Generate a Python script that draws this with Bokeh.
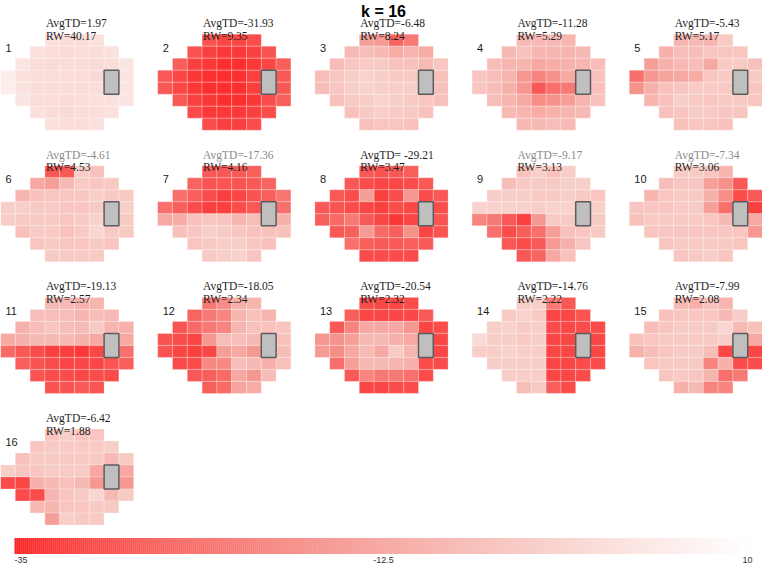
import numpy as np
from bokeh.plotting import figure
from bokeh.models import Range1d, ColumnDataSource, LinearColorMapper
from bokeh.core.properties import value
from bokeh.embed import file_html
from bokeh.resources import INLINE

# ---------------- data ----------------
TITLE = "k = 16"
AVG_TD_LABELS = ["AvgTD=1.97", "AvgTD=-31.93", "AvgTD=-6.48", "AvgTD=-11.28", "AvgTD=-5.43",
                 "AvgTD=-4.61", "AvgTD=-17.36", "AvgTD= -29.21", "AvgTD=-9.17", "AvgTD=-7.34",
                 "AvgTD=-19.13", "AvgTD=-18.05", "AvgTD=-20.54", "AvgTD=-14.76", "AvgTD=-7.99",
                 "AvgTD=-6.42"]
RW_LABELS = ["RW=40.17", "RW=9.35", "RW=8.24", "RW=5.29", "RW=5.17", "RW=4.53", "RW=4.16",
             "RW=3.47", "RW=3.13", "RW=3.06", "RW=2.57", "RW=2.34", "RW=2.32", "RW=2.22",
             "RW=2.08", "RW=1.88"]
GREY_AVG_PANELS = [6, 7, 9, 10]
CBAR_TICKS = [-35, -12.5, 10]
CBAR_TICK_LABELS = ["-35", "-12.5", "10"]
VMIN, VMAX = -35, 10
# columns occupied by each of the 8 rows of the 24-2 grid (blind spot = None)
ROW_COLS = [(3, 6), (2, 7), (1, 8), (0, 8), (0, 8), (1, 8), (2, 7), (3, 6)]

P1 = [[2, 1, 1, 2],
      [2, 1, 0, 1, 1, 2],
      [3, 1, 0, 1, 1, 0, 1, 3],
      [5, 2, 1, 1, 1, 1, 0, None, 3],
      [5, 2, 1, 1, 1, 1, 1, None, 3],
      [3, 1, 1, 0, 1, 2, 2, 3],
      [2, 1, 0, 1, 1, 2],
      [2, 1, 1, 2]]
P2 = [[-29, -31, -31, -30],
      [-29, -32, -33, -33, -32, -29],
      [-27, -32, -33, -34, -34, -33, -31, -27],
      [-28, -31, -33, -34, -34, -34, -32, None, -28],
      [-28, -31, -33, -34, -34, -34, -32, None, -28],
      [-28, -32, -33, -34, -34, -33, -30, -27],
      [-30, -33, -33, -33, -32, -30],
      [-30, -32, -32, -30]]
P3 = [[-14, -15, -26, -22],
      [-8, -7, -8, -11, -9, -11],
      [-7, -5, -4, -4, -6, -6, -8, -5],
      [-7, -5, -3, -2, -3, -4, -4, None, -6],
      [-7, -5, -3, -2, -3, -3, -3, None, -6],
      [-6, -4, -3, -2, -3, -4, -5, -6],
      [-6, -4, -3, -4, -4, -6],
      [-6, -5, -5, -6]]
P4 = [[-8, -8, -8, -9],
      [-8, -6, -9, -9, -9, -8],
      [-7, -9, -9, -12, -11, -10, -9, -7],
      [-5, -7, -9, -16, -20, -17, -12, None, -6],
      [-5, -7, -10, -16, -28, -24, -22, None, -6],
      [-7, -9, -12, -18, -17, -14, -9, -6],
      [-8, -9, -11, -10, -9, -8],
      [-8, -8, -7, -8]]
P5 = [[-9, -8, -9, -4],
      [-10, -7, -7, -5, -5, -5],
      [-14, -10, -8, -7, -12, -4, -4, -6],
      [-24, -16, -13, -12, -11, -5, -4, None, -4],
      [-17, -10, -6, -5, -4, -4, -4, None, -5],
      [-9, -6, -3, -4, -5, -4, -4, -5],
      [-6, -5, -4, -4, -5, -5],
      [-6, -5, -5, -6]]
P6 = [[-28, -28, -3, -6],
      [-12, -14, -8, -4, -5, -4],
      [-9, -6, -5, -5, -5, -3, -4, -4],
      [-3, -3, -4, -4, -5, -5, -4, None, -3],
      [-3, -4, -4, -4, -5, -4, -2, None, -4],
      [-6, -4, -4, -6, -4, -1, -4, -4],
      [-5, -4, -5, -5, -4, -5],
      [-4, -4, -4, -4]]
P7 = [[-28, -28, -28, -27],
      [-26, -29, -29, -29, -28, -26],
      [-24, -27, -30, -32, -31, -29, -27, -23],
      [-24, -27, -30, -32, -32, -30, -28, None, -24],
      [-12, -11, -6, -5, -5, -9, -7, None, -10],
      [-6, -5, -3, -4, -5, -6, -6, -6],
      [-5, -4, -3, -3, -5, -6],
      [-4, -3, -2, -5]]
P8 = [[-28, -29, -28, -27],
      [-28, -30, -31, -31, -30, -28],
      [-28, -30, -14, -32, -30, -16, -30, -28],
      [-28, -29, -30, -31, -32, -30, -31, None, -30],
      [-27, -25, -22, -28, -31, -33, -31, None, -29],
      [-28, -27, -15, -25, -27, -17, -31, -29],
      [-24, -27, -28, -28, -27, -28],
      [-30, -30, -30, -30]]
P9 = [[-6, -3, -6, -3],
      [-7, -4, -4, -4, -3, -3],
      [-3, -3, -3, -4, -4, -3, -4, -5],
      [-2, -2, -2, -2, -3, -2, -2, None, -3],
      [-20, -22, -28, -32, -16, -4, -4, None, -4],
      [-24, -30, -27, -24, -14, -6, -5, -4],
      [-28, -30, -28, -15, -10, -5],
      [-28, -26, -12, -6]]
P10 = [[-4, -4, -5, -9],
       [-7, -5, -5, -14, -17, -28],
       [-9, -5, -4, -4, -10, -18, -30, -28],
       [-5, -5, -5, -4, -4, -14, -24, None, -32],
       [-6, -4, -4, -4, -4, -5, -8, None, -12],
       [-5, -5, -5, -5, -5, -5, -5, -16],
       [-5, -4, -4, -4, -4, -5],
       [-5, -4, -3, -5]]
P11 = [[-8, -8, -10, -9],
       [-7, -7, -7, -9, -7, -8],
       [-10, -7, -5, -7, -8, -4, -9, -10],
       [-12, -10, -8, -8, -8, -10, -12, None, -12],
       [-25, -28, -30, -32, -32, -33, -31, None, -24],
       [-27, -29, -30, -31, -31, -31, -29, -27],
       [-29, -30, -30, -31, -30, -30],
       [-29, -29, -28, -29]]
P12 = [[-22, -18, -10, -9],
       [-26, -22, -20, -9, -6, -9],
       [-29, -25, -22, -20, -9, -6, -6, -5],
       [-29, -30, -31, -16, -7, -7, -8, None, -6],
       [-29, -31, -32, -31, -14, -12, -16, None, -7],
       [-30, -30, -19, -19, -7, -8, -10, -6],
       [-28, -27, -25, -12, -16, -7],
       [-27, -25, -13, -11]]
P13 = [[-30, -31, -31, -30],
       [-27, -31, -31, -31, -31, -28],
       [-28, -20, -12, -12, -12, -16, -31, -30],
       [-16, -17, -14, -8, -8, -10, -12, None, -31],
       [-15, -18, -12, -8, -12, -4, -9, None, -31],
       [-24, -14, -8, -8, -9, -10, -30, -30],
       [-28, -20, -22, -22, -24, -30],
       [-31, -31, -30, -30]]
P14 = [[-3, -3, -22, -28],
       [-4, -2, -4, -31, -31, -29],
       [-3, -2, -4, -3, -30, -31, -30, -30],
       [0, -3, -3, -4, -3, -31, -31, None, -31],
       [-3, -3, -2, -3, -3, -31, -31, None, -31],
       [-3, -3, -3, -3, -31, -31, -30, -30],
       [-3, -3, -3, -31, -31, -30],
       [-7, -4, -27, -30]]
P15 = [[-8, -10, -6, -9],
       [-6, -5, -5, -5, -8, -3],
       [-7, -5, -4, -4, -4, -1, -8, -6],
       [-6, -5, -4, -4, -4, -4, -3, None, -12],
       [-10, -7, -5, -4, -4, -7, -31, None, -31],
       [-5, -4, -4, -4, -20, -10, -30, -30],
       [-5, -4, -5, -9, -24, -22],
       [-10, -8, -20, -20]]
P16 = [[-5, -3, -5, -5],
       [-5, -4, -4, -4, -4, -3],
       [-6, -4, -4, -4, -4, -4, -8, -4],
       [-3, -5, -5, -4, -4, -4, -12, None, -12],
       [-30, -31, -10, -8, -6, -8, -16, None, -16],
       [-30, -30, -9, -5, -4, -1, -8, -4],
       [-8, -9, -5, -5, -4, -4],
       [-14, -3, -4, -4]]
PANELS = [P1, P2, P3, P4, P5, P6, P7, P8, P9, P10, P11, P12, P13, P14, P15, P16]

# ---------------- layout / style ----------------
W, H = 762, 566
CW, CH = 14.8, 12.0
PITCH, VPITCH = 157.2, 131.6
X0, Y0 = 0.0, 33.7
NCOL = 5
CB_X0, CB_W = 14.0, 738.0
CB_TOP, CB_BOT = 537.5, 553.5


def yd(y):
    return H - y


def rgb(c):
    return "#%02x%02x%02x" % tuple(int(round(min(255, max(0, v)))) for v in c)


palette = []
for t in np.linspace(0, 1, 256):
    g = 35 + 220 * t ** 0.75
    b = g - 24 * t * (1 - t)
    r = 252 - 14 * t * (1 - t) * 4 * 0.5 + 3 * t
    palette.append(rgb((r, g, b)))
mapper = LinearColorMapper(palette=palette, low=VMIN, high=VMAX)

p = figure(width=W, height=H, x_range=Range1d(0, W), y_range=Range1d(0, H),
           x_axis_type=None, y_axis_type=None, output_backend="svg",
           toolbar_location=None, min_border=0)
p.grid.visible = False
p.outline_line_color = None
p.background_fill_color = "white"
p.border_fill_color = "white"

cell = dict(left=[], right=[], top=[], bottom=[], v=[])
blind = dict(left=[], right=[], top=[], bottom=[])
txt_avg = dict(x=[], y=[], text=[], color=[])
txt_rw = dict(x=[], y=[], text=[])
txt_id = dict(x=[], y=[], text=[])

for k, panel in enumerate(PANELS):
    pr, pc = divmod(k, NCOL)
    ox = X0 + pc * PITCH
    oy = Y0 + pr * VPITCH
    for r, row in enumerate(panel):
        c0, _ = ROW_COLS[r]
        for j, v in enumerate(row):
            c = c0 + j
            if v is None:
                continue
            cell["left"].append(ox + c * CW)
            cell["right"].append(ox + (c + 1) * CW)
            cell["top"].append(yd(oy + r * CH))
            cell["bottom"].append(yd(oy + (r + 1) * CH))
            cell["v"].append(v)
    blind["left"].append(ox + 7 * CW)
    blind["right"].append(ox + 8 * CW)
    blind["top"].append(yd(oy + 3 * CH))
    blind["bottom"].append(yd(oy + 5 * CH))
    txt_avg["x"].append(ox + 3 * CW + 1)
    txt_avg["y"].append(yd(oy - 11.2))
    txt_avg["text"].append(AVG_TD_LABELS[k])
    txt_avg["color"].append("#8a8a8a" if (k + 1) in GREY_AVG_PANELS else "#1e1e1e")
    txt_rw["x"].append(ox + 3 * CW + 1)
    txt_rw["y"].append(yd(oy + 1.6))
    txt_rw["text"].append(RW_LABELS[k])
    txt_id["x"].append(ox + 5)
    txt_id["y"].append(yd(oy + 13.4))
    txt_id["text"].append(str(k + 1))

p.quad(left="left", right="right", top="top", bottom="bottom",
       source=ColumnDataSource(cell),
       fill_color={"field": "v", "transform": mapper},
       line_color="white", line_alpha=0.3, line_width=0.8)
p.quad(left="left", right="right", top="top", bottom="bottom",
       source=ColumnDataSource(blind), fill_color="#bfbfbf",
       line_color="#5c5c5c", line_width=1.5)

p.text(x="x", y="y", text="text", text_color="color", source=ColumnDataSource(txt_avg),
       text_font=value("Liberation Serif"), text_font_size="11.5px",
       text_baseline="alphabetic", text_align="left")
p.text(x="x", y="y", text="text", source=ColumnDataSource(txt_rw), text_color="#1e1e1e",
       text_font=value("Liberation Serif"), text_font_size="11.5px",
       text_baseline="alphabetic", text_align="left")
p.text(x="x", y="y", text="text", source=ColumnDataSource(txt_id), text_color="#1a1a1a",
       text_font=value("Liberation Sans"), text_font_size="11px",
       text_baseline="alphabetic", text_align="left")

# title
p.text(x=[W / 2 + 2], y=[yd(10.5)], text=[TITLE], text_font=value("Liberation Sans"),
       text_font_size="16px", text_font_style="bold", text_color="black",
       text_baseline="alphabetic", text_align="center")

# colour bar
NSTRIPE = 369
edges = np.linspace(VMIN, VMAX, NSTRIPE + 1)
mids = (edges[:-1] + edges[1:]) / 2


def xv(v):
    return CB_X0 + (np.asarray(v, float) - VMIN) / (VMAX - VMIN) * CB_W


cb_src = ColumnDataSource(dict(left=xv(edges[:-1]), right=xv(edges[1:]) + 0.3, v=mids))
p.quad(left="left", right="right", top=yd(CB_TOP), bottom=yd(CB_BOT), source=cb_src,
       fill_color={"field": "v", "transform": mapper}, line_color=None)
aligns = ["left", "center", "right"]
for t, lab, al in zip(CBAR_TICKS, CBAR_TICK_LABELS, aligns):
    p.text(x=[float(xv(t))], y=[yd(559.5)], text=[lab], text_font=value("Liberation Sans"),
           text_font_size="9px", text_color="#333333", text_baseline="middle",
           text_align=al)

open("out.html", "w").write(file_html(p, INLINE))
